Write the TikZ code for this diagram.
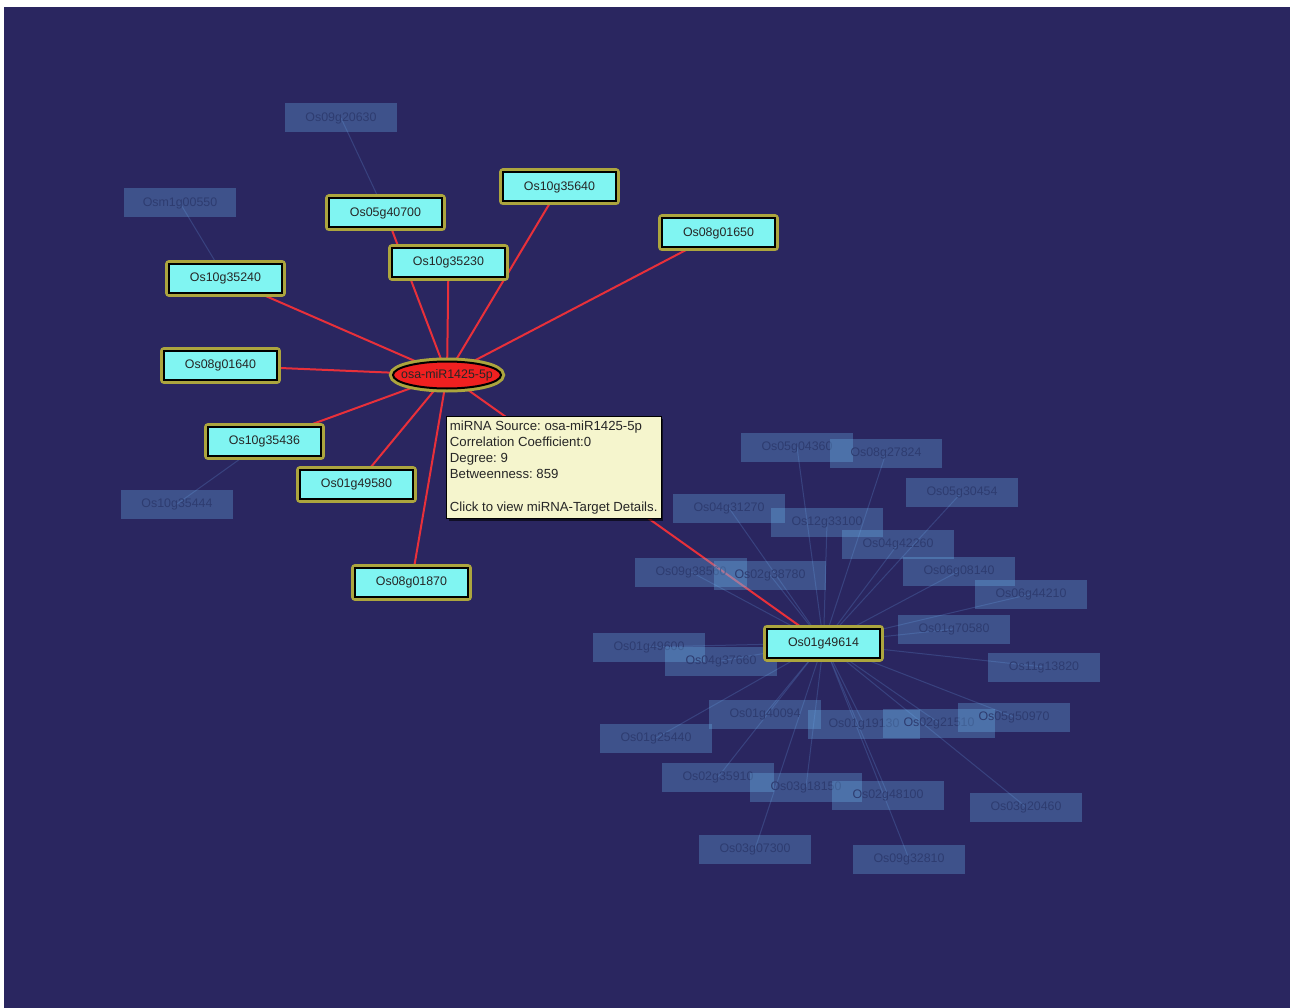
\documentclass[tikz,border=0pt]{standalone}
\usepackage{fontspec}
\setmainfont{Liberation Sans}
\usetikzlibrary{shapes.geometric,shadows}
\pgfdeclarelayer{bg}
\pgfdeclarelayer{edges}
\pgfsetlayers{bg,edges,main}
\frenchspacing
\definecolor{bgnavy}{RGB}{42,38,96}
\definecolor{genecyan}{RGB}{128,245,242}
\definecolor{glow}{RGB}{172,165,62}
\definecolor{mirred}{RGB}{240,32,32}
\definecolor{rededge}{RGB}{232,48,58}
\definecolor{fadebox}{RGB}{110,185,240}
\definecolor{fadetext}{RGB}{46,60,112}
\definecolor{fadeedge}{RGB}{95,140,210}
\definecolor{tipfill}{RGB}{245,245,205}
\tikzset{
  lbl/.style={font=\fontsize{12.4}{14}\selectfont},
  gene/.style={lbl, rectangle, draw=black, line width=2pt, fill=genecyan,
    minimum width=113pt, minimum height=29pt, inner sep=0pt, text=black!85,
    preaction={draw=glow, line width=8pt, line join=round}},
  mirna/.style={lbl, ellipse, draw=black, line width=2pt, fill=mirred,
    minimum width=108pt, minimum height=27pt, inner sep=0pt, text=black!85,
    preaction={draw=glow, line width=8pt}},
  faded/.style={lbl, rectangle, fill=fadebox, fill opacity=0.3, text opacity=1,
    text=fadetext, minimum width=112pt, minimum height=29pt, inner sep=0pt},
  redge/.style={draw=rededge, line width=2pt},
  fedge/.style={draw=fadeedge, line width=1pt, opacity=0.28},
  tipbox/.style={rectangle, draw=black, line width=0.8pt, fill=tipfill,
    font=\fontsize{13.2}{16.2}\selectfont, align=left, text=black!85,
    minimum height=102pt, inner xsep=3.5pt, inner ysep=4pt,
    drop shadow={shadow xshift=2.5pt, shadow yshift=-2.5pt, opacity=0.6, fill=black}}
}
\begin{document}
\begin{tikzpicture}[x=1pt,y=-1pt]
\useasboundingbox (0,0) rectangle (1290,1008);
\begin{pgfonlayer}{bg}
  \fill[white] (0,0) rectangle (1290,1008);
  \fill[bgnavy] (4,7) rectangle (1290,1008);
\end{pgfonlayer}

% faded nodes
\node[faded] (f1) at (341,118) {Os09g20630};
\node[faded] (f2) at (180,203) {Osm1g00550};
\node[faded] (f3) at (177,504) {Os10g35444};
\node[faded] (c1) at (797,447) {Os05g04360};
\node[faded] (c2) at (886,453) {Os08g27824};
\node[faded] (c3) at (962,492) {Os05g30454};
\node[faded] (c4) at (729,508) {Os04g31270};
\node[faded] (c5) at (827,522) {Os12g33100};
\node[faded] (c6) at (898,544) {Os04g42260};
\node[faded] (c7) at (691,572) {Os09g38560};
\node[faded] (c8) at (770,575) {Os02g38780};
\node[faded] (c9) at (959,571) {Os06g08140};
\node[faded] (c10) at (1031,594) {Os06g44210};
\node[faded] (c11) at (954,629) {Os01g70580};
\node[faded] (c12) at (649,647) {Os01g49600};
\node[faded] (c13) at (721,661) {Os04g37660};
\node[faded] (c14) at (1044,667) {Os11g13820};
\node[faded] (c15) at (765,714) {Os01g40094};
\node[faded] (c16) at (864,724) {Os01g19130};
\node[faded] (c17) at (939,723) {Os02g21510};
\node[faded] (c18) at (1014,717) {Os05g50970};
\node[faded] (c19) at (656,738) {Os01g25440};
\node[faded] (c20) at (718,777) {Os02g35910};
\node[faded] (c21) at (806,787) {Os03g18150};
\node[faded] (c22) at (888,795) {Os02g48100};
\node[faded] (c23) at (1026,807) {Os03g20460};
\node[faded] (c24) at (755,849) {Os03g07300};
\node[faded] (c25) at (909,859) {Os09g32810};

% bright nodes
\node[mirna] (mir) at (447,375) {\makebox[0pt]{osa-miR1425-5p}};
\node[gene] (g1) at (559.5,187) {Os10g35640};
\node[gene] (g2) at (385.5,213) {Os05g40700};
\node[gene] (g3) at (718.5,233) {Os08g01650};
\node[gene] (g4) at (448.5,262.5) {Os10g35230};
\node[gene] (g5) at (225.5,278.5) {Os10g35240};
\node[gene] (g6) at (220.5,365.5) {Os08g01640};
\node[gene] (g7) at (264.5,441.5) {Os10g35436};
\node[gene] (g8) at (356.5,484.5) {Os01g49580};
\node[gene] (g9) at (411.5,582.5) {Os08g01870};
\node[gene] (hub) at (823.5,643) {Os01g49614};

\begin{pgfonlayer}{edges}
  \draw[fedge] (f1.center) -- (g2.center);
  \draw[fedge] (f2.center) -- (g5.center);
  \draw[fedge] (f3.center) -- (g7.center);
  \foreach \c in {c1,c2,c3,c4,c5,c6,c7,c8,c9,c10,c11,c12,c13,c14,c15,c16,c17,c18,c19,c20,c21,c22,c23,c24,c25}
    \draw[fedge] (hub.center) -- (\c.center);
  \foreach \g in {g1,g2,g3,g4,g5,g6,g7,g8,g9,hub}
    \draw[redge] (mir.center) -- (\g.center);
\end{pgfonlayer}

% tooltip
\node[tipbox, anchor=north west] (tip) at (446,416)
  {miRNA Source: osa-miR1425-5p\\
   Correlation Coefficient:0\\
   Degree: 9\\
   Betweenness: 859\\[16.2pt]
   Click to view miRNA-Target Details.};
\end{tikzpicture}
\end{document}
